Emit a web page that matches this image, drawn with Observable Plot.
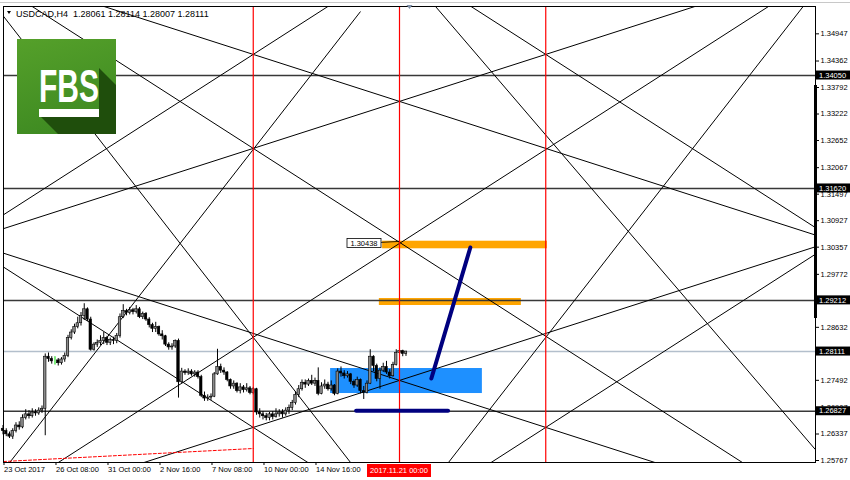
<!DOCTYPE html>
<html><head><meta charset="utf-8">
<script src="https://cdn.jsdelivr.net/npm/d3@7"></script>
<script src="https://cdn.jsdelivr.net/npm/@observablehq/plot@0.6"></script>
<style>
html,body{margin:0;padding:0;background:#fff;}
#chart{width:850px;height:480px;position:relative;overflow:hidden;}
svg{display:block;}
</style></head><body><div id="chart"></div>
<script>
const FONT = "'Liberation Sans', Arial, sans-serif";
const symbolInfo = "USDCAD,H4  1.28061 1.28114 1.28007 1.28111";

// H4 candles, bar index 0 = 23 Oct 2017 16:00; [open, high, low, close]
const candles = [
[1.2645,1.2652,1.2632,1.2640],[1.2640,1.2645,1.2628,1.2633],[1.2633,1.2638,1.2624,1.2628],[1.2628,1.2645,1.2622,1.2640],
[1.2640,1.2658,1.2636,1.2652],[1.2652,1.2660,1.2642,1.2648],[1.2648,1.2675,1.2645,1.2668],[1.2668,1.2686,1.2664,1.2676],
[1.2676,1.2684,1.2666,1.2672],[1.2672,1.2688,1.2668,1.2680],[1.2680,1.2686,1.2672,1.2678],[1.2678,1.2690,1.2674,1.2684],
[1.2684,1.2694,1.2678,1.2688],[1.2688,1.2806,1.2630,1.2800],[1.2800,1.2808,1.2788,1.2795],[1.2795,1.2800,1.2784,1.2790],
[1.2792,1.2800,1.2782,1.2792],[1.2792,1.2796,1.2780,1.2786],[1.2786,1.2798,1.2782,1.2794],[1.2794,1.2808,1.2788,1.2802],
[1.2802,1.2846,1.2798,1.2840],[1.2840,1.2858,1.2836,1.2852],[1.2852,1.2870,1.2848,1.2864],[1.2864,1.2885,1.2860,1.2872],
[1.2872,1.2895,1.2866,1.2888],[1.2888,1.2914,1.2878,1.2902],[1.2902,1.2905,1.2876,1.2880],[1.2880,1.2885,1.2812,1.2815],
[1.2815,1.2830,1.2812,1.2826],[1.2826,1.2836,1.2820,1.2830],[1.2830,1.2845,1.2824,1.2834],[1.2834,1.2852,1.2826,1.2840],
[1.2840,1.2844,1.2824,1.2830],[1.2830,1.2840,1.2824,1.2836],[1.2836,1.2842,1.2826,1.2834],[1.2834,1.2850,1.2828,1.2845],
[1.2845,1.2892,1.2840,1.2885],[1.2885,1.2912,1.2882,1.2898],[1.2898,1.2902,1.2888,1.2894],[1.2894,1.2906,1.2890,1.2900],
[1.2900,1.2904,1.2890,1.2896],[1.2896,1.2910,1.2892,1.2902],[1.2902,1.2906,1.2882,1.2885],[1.2885,1.2896,1.2880,1.2892],
[1.2892,1.2895,1.2876,1.2880],[1.2880,1.2884,1.2862,1.2868],[1.2868,1.2872,1.2852,1.2860],[1.2860,1.2874,1.2852,1.2864],
[1.2864,1.2866,1.2844,1.2848],[1.2848,1.2856,1.2836,1.2844],[1.2844,1.2846,1.2822,1.2826],[1.2826,1.2830,1.2814,1.2820],
[1.2820,1.2828,1.2814,1.2822],[1.2822,1.2836,1.2818,1.2834],[1.2834,1.2838,1.2711,1.2745],[1.2745,1.2775,1.2742,1.2768],
[1.2768,1.2772,1.2760,1.2765],[1.2765,1.2774,1.2760,1.2768],[1.2768,1.2772,1.2758,1.2762],[1.2762,1.2770,1.2756,1.2766],
[1.2766,1.2770,1.2752,1.2756],[1.2756,1.2760,1.2712,1.2716],[1.2716,1.2724,1.2704,1.2710],[1.2710,1.2718,1.2704,1.2712],
[1.2712,1.2720,1.2706,1.2714],[1.2714,1.2766,1.2712,1.2762],[1.2762,1.2816,1.2760,1.2778],[1.2778,1.2784,1.2764,1.2770],
[1.2770,1.2776,1.2760,1.2766],[1.2766,1.2768,1.2746,1.2750],[1.2750,1.2752,1.2730,1.2736],[1.2736,1.2748,1.2730,1.2742],
[1.2742,1.2744,1.2722,1.2726],[1.2726,1.2742,1.2720,1.2734],[1.2734,1.2738,1.2722,1.2728],[1.2728,1.2742,1.2724,1.2732],
[1.2732,1.2736,1.2718,1.2722],[1.2722,1.2734,1.2718,1.2730],[1.2730,1.2732,1.2674,1.2680],[1.2680,1.2688,1.2668,1.2676],
[1.2676,1.2682,1.2664,1.2672],[1.2672,1.2678,1.2662,1.2668],[1.2668,1.2680,1.2662,1.2676],[1.2676,1.2682,1.2664,1.2670],
[1.2670,1.2688,1.2668,1.2676],[1.2676,1.2686,1.2670,1.2680],[1.2680,1.2686,1.2668,1.2676],[1.2676,1.2690,1.2672,1.2684],
[1.2684,1.2696,1.2676,1.2690],[1.2690,1.2706,1.2684,1.2700],[1.2700,1.2724,1.2696,1.2718],[1.2718,1.2738,1.2712,1.2730],
[1.2730,1.2750,1.2726,1.2744],[1.2744,1.2750,1.2732,1.2740],[1.2740,1.2752,1.2736,1.2748],[1.2748,1.2760,1.2738,1.2742],
[1.2742,1.2754,1.2736,1.2748],[1.2748,1.2776,1.2716,1.2720],[1.2720,1.2744,1.2718,1.2736],[1.2736,1.2750,1.2730,1.2740],
[1.2740,1.2745,1.2726,1.2730],[1.2730,1.2748,1.2726,1.2738],[1.2738,1.2740,1.2716,1.2720],[1.2720,1.2774,1.2718,1.2768],
[1.2768,1.2778,1.2756,1.2764],[1.2764,1.2770,1.2752,1.2758],[1.2758,1.2768,1.2754,1.2762],[1.2762,1.2764,1.2740,1.2746],
[1.2746,1.2750,1.2732,1.2738],[1.2738,1.2756,1.2734,1.2750],[1.2750,1.2752,1.2720,1.2726],[1.2726,1.2736,1.2708,1.2722],
[1.2722,1.2748,1.2720,1.2742],[1.2742,1.2815,1.2740,1.2800],[1.2800,1.2802,1.2768,1.2780],[1.2780,1.2784,1.2746,1.2752],
[1.2752,1.2776,1.2730,1.2770],[1.2770,1.2786,1.2766,1.2778],[1.2778,1.2790,1.2762,1.2766],[1.2766,1.2772,1.2752,1.2758],
[1.2758,1.2788,1.2756,1.2782],[1.2782,1.2815,1.2780,1.2808],[1.2808,1.2818,1.2800,1.2812],[1.2812,1.2814,1.2800,1.2806],
[1.28061,1.28114,1.28007,1.28111]
];
const greenBars = [16];

const priceTicks = [1.34947,1.34362,1.33792,1.33222,1.32652,1.32067,1.31497,1.30927,1.30357,1.29772,1.28632,1.27492,1.26907,1.26337,1.25767];
const priceLevels = [1.34050, 1.31620, 1.29212, 1.26827];
const currentPrice = 1.28111;
const scaleBar = [1.28822, 1.33835];

const timeTickIndex = [0, 16, 32, 48, 64, 80, 96];
const timeTickLabels = ["23 Oct 2017", "26 Oct 08:00", "31 Oct 00:00", "2 Nov 16:00", "7 Nov 08:00", "10 Nov 00:00", "14 Nov 16:00"];
const redLineIndex = [77, 122, 167];
const redLineLabel = [122, "2017.11.21 00:00"];

// Gann grid lines: [index1, price1, index2, price2]
const gannLines = [
[0,1.35338,110,1.25449],[0,1.25538,110,1.35427],[0,1.35939,250,1.24714],[0,1.36234,250,1.30617],
[0,1.31047,110,1.35986],[0,1.30752,250,1.36369],[0,1.24960,250,1.36185],[130,1.35787,250,1.25999],
[130,1.36165,250,1.30777],[130,1.25089,250,1.35877],[0,1.30231,250,1.24614],[0,1.29936,110,1.24997],
[0,1.24749,250,1.30366],[130,1.24818,250,1.30206]
];
const dashedTrend = [[0.154, 1.25745], [77, 1.26025]];
const blueZone = [[100.8, 147.5, 1.27208, 1.27746]];
const orangeZones = [[116.8, 167.5, 1.30322, 1.30485], [115.8, 159.5, 1.29102, 1.29252]];
const navyArrow = [[131.8, 1.27531], [143.8, 1.30350]];
const navyLevel = [[108.8, 137.1, 1.2684]];
const pointLabel = [122, 1.30438, "1.30438"];

const rows = candles.map((d, i) => ({i, o: d[0], h: d[1], l: d[2], c: d[3], green: greenBars.includes(i)}));
const xMin = 0.154, xMax = 250;

const plot = Plot.plot({
  width: 850, height: 480,
  marginLeft: 3, marginRight: 35, marginTop: 6, marginBottom: 18,
  x: {domain: [xMin, xMax], axis: null, label: null},
  y: {domain: [1.25724, 1.35535], axis: null, label: null},
  color: {type: "identity"},
  style: {fontFamily: FONT, fontSize: "7.5px", background: "#fff", overflow: "visible", color: "#000"},
  marks: [
    Plot.rect(blueZone, {x1: d => d[0], x2: d => d[1], y1: d => d[2], y2: d => d[3], fill: "#1e90ff"}),
    Plot.rect(orangeZones, {x1: d => d[0], x2: d => d[1], y1: d => d[2], y2: d => d[3], fill: "#ffa500"}),
    Plot.ruleY(priceLevels, {stroke: "#383838", strokeWidth: 1.5}),
    Plot.ruleY([currentPrice], {stroke: "#b3bfcc", strokeWidth: 1.5}),
    Plot.link(gannLines, {x1: d => d[0], y1: d => d[1], x2: d => d[2], y2: d => d[3], stroke: "#000", strokeWidth: 1, clip: true}),
    Plot.line(dashedTrend, {x: d => d[0], y: d => d[1], stroke: "#ff0000", strokeWidth: 1, strokeDasharray: "3,2"}),
    Plot.ruleX(rows, {x: "i", y1: "l", y2: "h", stroke: d => d.green ? "#00dd00" : "#000", strokeWidth: 1}),
    Plot.rect(rows.filter(d => !d.green), {x1: d => d.i - 0.38, x2: d => d.i + 0.38, y1: "o", y2: "c",
      fill: d => d.c >= d.o ? "#8a8a8a" : "#000", stroke: "#000", strokeWidth: 0.6}),
    Plot.ruleX(redLineIndex, {stroke: "#ff0000", strokeWidth: 1.2}),
    Plot.line(navyArrow, {x: d => d[0], y: d => d[1], stroke: "#00007f", strokeWidth: 4, strokeLinecap: "round"}),
    Plot.ruleY(navyLevel, {y: d => d[2], x1: d => d[0], x2: d => d[1], stroke: "#00007f", strokeWidth: 4, strokeLinecap: "round"}),
    Plot.frame({stroke: "#000"}),
    Plot.ruleX([xMax], {y1: scaleBar[0], y2: scaleBar[1], stroke: "#000", strokeWidth: 3}),
    Plot.axisY(priceTicks, {anchor: "right", label: null, tickSize: 3, tickPadding: 2, tickFormat: d => d.toFixed(5)}),
    Plot.axisX(timeTickIndex, {anchor: "bottom", label: null, tickSize: 3, tickPadding: 1, textAnchor: "start", dx: 1,
      tickFormat: d => timeTickLabels[timeTickIndex.indexOf(d)]})
  ]
});
document.getElementById("chart").appendChild(plot);

const svg = d3.select(plot);
const X = v => plot.scale("x").apply(v);
const Y = v => plot.scale("y").apply(v);
const right = 850 - 35;
const ov = svg.append("g").attr("font-family", FONT).attr("font-size", 7.5).attr("text-anchor", "start");

// window top edge
ov.append("line").attr("x1", 0).attr("x2", 850).attr("y1", 2.5).attr("y2", 2.5).attr("stroke", "#c8c8c8");

// price level label boxes on the right axis
[...priceLevels, currentPrice].forEach(v => {
  ov.append("rect").attr("x", right + 1).attr("y", Y(v) - 4.5).attr("width", 34).attr("height", 9).attr("fill", "#000");
  ov.append("text").attr("x", right + 4).attr("y", Y(v)).attr("dy", "0.35em").attr("text-anchor", "start").attr("fill", "#fff").text(v.toFixed(5));
});

// red time label
const rx = X(redLineLabel[0]);
ov.append("rect").attr("x", rx - 32).attr("y", 464).attr("width", 64).attr("height", 13).attr("fill", "#ff0000");
ov.append("text").attr("x", rx).attr("y", 470.5).attr("dy", "0.35em").attr("text-anchor", "middle").attr("fill", "#fff").text(redLineLabel[1]);

// point price label 1.30438
const px = X(pointLabel[0]), py = Y(pointLabel[1]);
ov.append("line").attr("x1", px - 18).attr("y1", py - 0.5).attr("x2", px).attr("y2", py - 1.5).attr("stroke", "#000").attr("stroke-width", 0.8);
ov.append("rect").attr("x", px - 52).attr("y", py - 4.5).attr("width", 34).attr("height", 9).attr("fill", "#fff").attr("stroke", "#000").attr("stroke-width", 0.8);
ov.append("text").attr("x", px - 35).attr("y", py).attr("dy", "0.35em").attr("text-anchor", "middle").attr("fill", "#000").text(pointLabel[2]);

// chart shift marker
ov.append("path").attr("d", `M${X(124) + 1},5 L${X(124) + 7},5 L${X(124) + 4},9 Z`).attr("fill", "#7f8fa6");

// header
ov.append("path").attr("d", "M7,11 L11,11 L9,14 Z").attr("fill", "#000");
ov.append("text").attr("x", 16).attr("y", 13.5).attr("dy", "0.35em").attr("font-size", 9).attr("text-anchor", "start").attr("fill", "#000").style("white-space", "pre").text(symbolInfo);

// FBS logo
const defs = svg.append("defs");
const grad = defs.append("linearGradient").attr("id", "fbsg").attr("x1", 0).attr("y1", 0).attr("x2", 0.3).attr("y2", 1);
grad.append("stop").attr("offset", 0).attr("stop-color", "#55a02a");
grad.append("stop").attr("offset", 1).attr("stop-color", "#3f8b22");
const logo = svg.append("g").attr("transform", "translate(17,39)");
logo.append("rect").attr("width", 99).attr("height", 95).attr("fill", "url(#fbsg)");
logo.append("path").attr("d", "M82,29 L99,46 L99,95 L41,95 L22,76 L82,76 Z").attr("fill", "#1f4e0c");
logo.append("text").attr("x", 22).attr("y", 63).attr("text-anchor", "start").attr("font-family", FONT).attr("font-weight", "bold")
  .attr("font-size", 47).attr("fill", "#fff").attr("textLength", 60).attr("lengthAdjust", "spacingAndGlyphs").text("FBS");
logo.append("rect").attr("x", 22).attr("y", 70).attr("width", 60).attr("height", 8).attr("fill", "#fff");
</script></body></html>
